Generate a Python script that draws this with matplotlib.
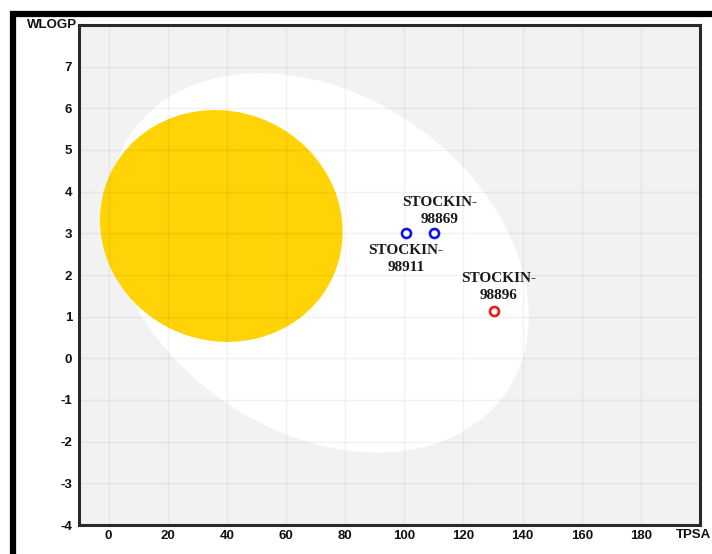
import matplotlib
matplotlib.use("Agg")
import matplotlib.pyplot as plt
from matplotlib.patches import Ellipse, Rectangle

# ---- data ----
names = ["STOCKIN-\n98869", "STOCKIN-\n98911", "STOCKIN-\n98896"]
tpsa = [110.0, 100.6, 130.4]
wlogp = [3.0, 3.0, 1.14]
point_colors = ["#1010f0", "#1010f0", "#f01818"]
label_offsets = [(4, 5.5), (0, -7.5), (3, 6.5)]
label_va = ["bottom", "top", "bottom"]

xticks = [0, 20, 40, 60, 80, 100, 120, 140, 160, 180]
yticks = [-4, -3, -2, -1, 0, 1, 2, 3, 4, 5, 6, 7]

# BOILED-Egg regions (centre TPSA, centre WLOGP, width, height, angle)
hia = (71.051, 2.292, 142.081, 8.740, -1.031325)
bbb = (38.117, 3.177, 82.061, 5.557, -0.2)

fig = plt.figure(figsize=(7.12, 5.54), dpi=100)
ax = fig.add_axes([79/712, 29/554, 621/712, 500/554])
ax.set_facecolor("#f2f2f2")
ax.set_xlim(-10, 200)
ax.set_ylim(-4, 8)

ax.add_patch(Ellipse((hia[0], hia[1]), hia[2], hia[3], angle=hia[4],
                     facecolor="white", edgecolor="none", zorder=1))
ax.add_patch(Ellipse((bbb[0], bbb[1]), bbb[2], bbb[3], angle=bbb[4],
                     facecolor="#ffd306", edgecolor="none", zorder=2))

ax.set_xticks(xticks)
ax.set_yticks(yticks)
ax.set_xticklabels([str(v) for v in xticks])
ax.set_yticklabels([str(v) for v in yticks])
ax.grid(True, color="black", alpha=0.05, linewidth=1.0, zorder=3)
ax.set_axisbelow(False)
ax.tick_params(length=0, labelsize=9.5, pad=3.5)
for lab in ax.get_xticklabels() + ax.get_yticklabels():
    lab.set_fontfamily("Liberation Sans")
    lab.set_fontweight("bold")
    lab.set_color("#111111")
ax.tick_params(axis="y", pad=5)

for sp in ax.spines.values():
    sp.set_linewidth(2.2)
    sp.set_color("#2a2a2a")
    sp.set_zorder(6)

for x, y, c, n, off, va in zip(tpsa, wlogp, point_colors, names, label_offsets, label_va):
    ax.plot([x], [y], marker="o", markersize=6.5, markerfacecolor="white",
            markeredgecolor=c, markeredgewidth=1.9, linestyle="none", zorder=5)
    ax.annotate(n, (x, y), xytext=off, textcoords="offset points",
                ha="center", va=va, fontsize=11, fontweight="bold",
                family="Liberation Serif", color="#1a1a1a",
                linespacing=1.4, zorder=5)

fig.text(77/712, 1 - 25/554, "WLOGP", ha="right", va="center",
         fontsize=9.5, fontweight="bold", family="Liberation Sans", color="#111111")
fig.text(711/712, 1 - 535/554, "TPSA", ha="right", va="center",
         fontsize=9.5, fontweight="bold", family="Liberation Sans", color="#111111")

# outer black frame (cropped at right and bottom)
fig.add_artist(Rectangle((13/712, -0.1), 1.2, 1 - 14/554 + 0.1,
                         transform=fig.transFigure, fill=False,
                         edgecolor="black", linewidth=4.5, clip_on=False))

fig.savefig("out.png", dpi=100)
